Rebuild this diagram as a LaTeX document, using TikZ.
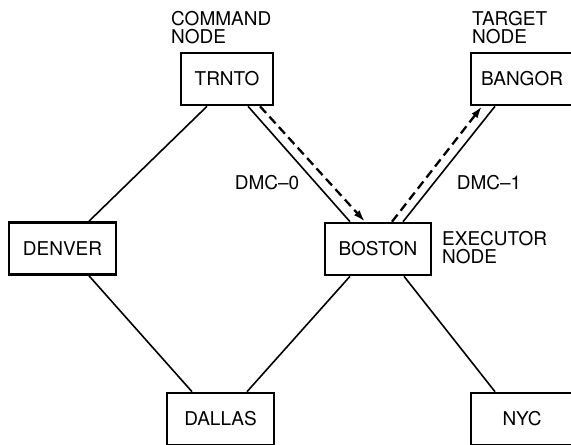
\documentclass[tikz,border=0pt]{standalone}
\usepackage{fontspec}
\setmainfont{TeX Gyre Heros}
\usetikzlibrary{arrows.meta,calc}
\tikzset{
  site/.style={draw, line width=2.6pt, rectangle, minimum height=52pt, inner sep=0pt, font=\fontsize{19}{18}\selectfont},
  lbl/.style={inner sep=0pt, align=left, font=\fontsize{19}{18}\selectfont},
  link/.style={line width=1.6pt},
  dmc/.style={line width=2.3pt, dash pattern=on 9pt off 5pt, -{Latex[length=12pt,width=7.5pt]}},
}
\begin{document}
\begin{tikzpicture}[x=1pt,y=-1pt]
\useasboundingbox (0,0) rectangle (571,445);
\node[site, minimum width=92pt]  (trnto)  at (227,79)  {TRNTO};
\node[site, minimum width=102pt] (bangor) at (522,79)  {BANGOR};
\node[site, minimum width=107pt] (denver) at (62.5,248.5) {DENVER};
\node[site, minimum width=106pt] (boston) at (378,249) {BOSTON};
\node[site, minimum width=107pt] (dallas) at (220.5,419) {DALLAS};
\node[site, minimum width=102pt] (nyc)    at (522,419) {NYC};

\node[lbl, anchor=north west] (cmd) at (171,11.5) {COMMAND\\NODE};
\node[lbl, anchor=north west] (tgt) at (472,11.5) {TARGET\\NODE};
\node[lbl, anchor=north west] (exe) at (442,231.5) {EXECUTOR\\NODE};
\node[lbl] (dmc0) at (267,183) {DMC–0};
\node[lbl] (dmc1) at (489,183) {DMC–1};

\draw[link] ([xshift=-20pt]trnto.south) -- ([xshift=26.5pt]denver.north);
\draw[link] ([xshift=21pt]trnto.south) -- ([xshift=-28pt]boston.north);
\draw[link] ([xshift=25pt]boston.north) -- ([xshift=-27pt]bangor.south);
\draw[link] ([xshift=26.5pt]denver.south) -- ([xshift=-28.5pt]dallas.north);
\draw[link] ([xshift=26.5pt]dallas.north) -- ([xshift=-28pt]boston.south);
\draw[link] ([xshift=26pt]boston.south) -- ([xshift=-27pt]nyc.north);

\draw[dmc] ([xshift=33pt]trnto.south) -- ([xshift=-13pt]boston.north);
\draw[dmc] ([xshift=14pt]boston.north) -- ([xshift=-40pt]bangor.south);
\end{tikzpicture}
\end{document}
